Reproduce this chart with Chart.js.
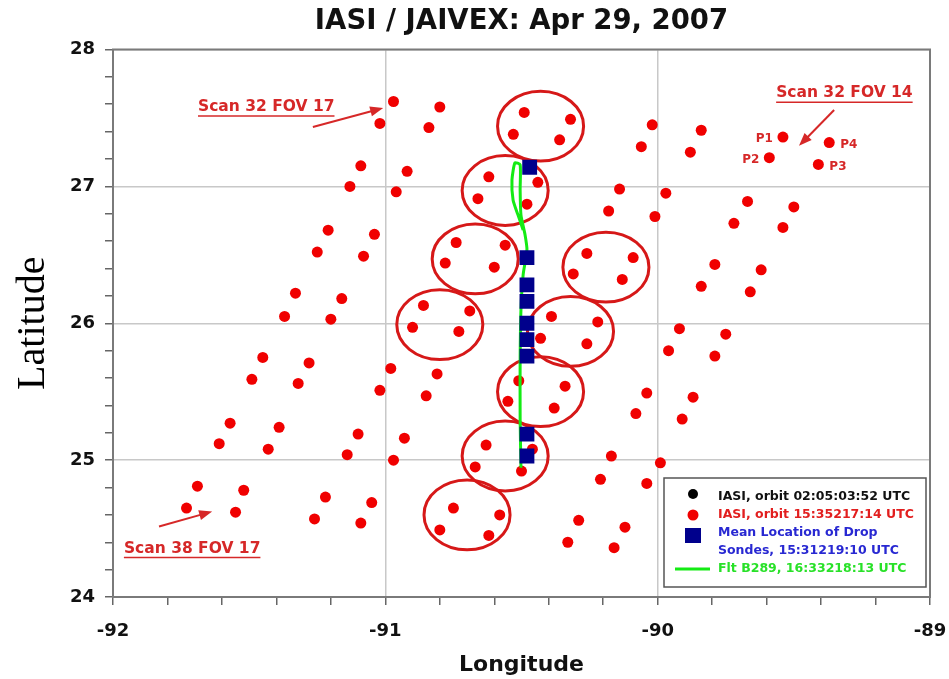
<!DOCTYPE html>
<html><head><meta charset="utf-8">
<script src="https://cdn.jsdelivr.net/npm/chart.js@4.4.0/dist/chart.umd.min.js"></script>
<style>html,body{margin:0;padding:0;background:#fff}canvas{display:block}</style>
</head><body>
<canvas id="c" width="949" height="679"></canvas>
<script>
// ---- data ----
const xTickLabels = [-92, -91, -90, -89];
const yTickLabels = [24, 25, 26, 27, 28];

// IASI FOVs, orbit 15:35-17:14 (groups of 4 pixels, row by row)
const iasiLon = [
  -90.97,-90.80,-91.02,-90.84, -90.49,-90.32,-90.53,-90.36, -90.02,-89.84,-90.06,-89.88, -89.54,-89.37,-89.59,-89.41,
  -91.09,-90.92,-91.13,-90.96, -90.62,-90.44,-90.66,-90.48, -90.14,-89.97,-90.18,-90.01, -89.67,-89.50,-89.72,-89.54,
  -91.21,-91.04,-91.25,-91.08, -90.74,-90.56,-90.78,-90.60, -90.26,-90.09,-90.31,-90.13, -89.79,-89.62,-89.84,-89.66,
  -91.33,-91.16,-91.37,-91.20, -90.86,-90.69,-90.90,-90.73, -90.39,-90.22,-90.43,-90.26, -89.92,-89.75,-89.96,-89.79,
  -91.45,-91.28,-91.49,-91.32, -90.98,-90.81,-91.02,-90.85, -90.51,-90.34,-90.55,-90.38, -90.04,-89.87,-90.08,-89.91,
  -91.57,-91.39,-91.61,-91.43, -91.10,-90.93,-91.14,-90.97, -90.63,-90.46,-90.67,-90.50, -90.17,-89.99,-90.21,-90.04,
  -91.69,-91.52,-91.73,-91.55, -91.22,-91.05,-91.26,-91.09, -90.75,-90.58,-90.80,-90.62, -90.29,-90.12,-90.33,-90.16
];
const iasiLat = [
  27.62,27.58,27.46,27.43, 27.54,27.49,27.38,27.34, 27.45,27.41,27.29,27.25, 27.36,27.32,27.21,27.16,
  27.15,27.11,27.00,26.96, 27.07,27.03,26.91,26.87, 26.98,26.95,26.82,26.78, 26.89,26.85,26.73,26.70,
  26.68,26.65,26.52,26.49, 26.59,26.57,26.44,26.41, 26.51,26.48,26.36,26.32, 26.43,26.39,26.27,26.23,
  26.22,26.18,26.05,26.03, 26.13,26.09,25.97,25.94, 26.05,26.01,25.89,25.85, 25.96,25.92,25.80,25.76,
  25.75,25.71,25.59,25.56, 25.67,25.63,25.51,25.47, 25.58,25.54,25.43,25.38, 25.49,25.46,25.34,25.30,
  25.27,25.24,25.12,25.08, 25.19,25.16,25.04,25.00, 25.11,25.08,24.95,24.92, 25.03,24.98,24.86,24.83,
  24.81,24.78,24.65,24.62, 24.73,24.69,24.57,24.54, 24.65,24.60,24.49,24.45, 24.56,24.51,24.40,24.36
];

// Mean location of drop sondes
const sondeLon = [-90.47, -90.48, -90.48, -90.48, -90.48, -90.48, -90.48, -90.48, -90.48];
const sondeLat = [27.14, 26.48, 26.28, 26.16, 26.00, 25.88, 25.76, 25.19, 25.03];

// Flight B289 track
const flightLon = [-90.502,-90.505,-90.505,-90.502,-90.494,-90.480,-90.487,-90.502,-90.505,-90.505,-90.524,-90.535,-90.531,-90.513,-90.494];
const flightLat = [24.945,25.296,25.734,26.099,26.354,26.536,26.646,26.792,26.974,27.157,27.172,27.047,26.901,26.792,26.682];

// circled collocations (centres)
const circleLon = [-90.43, -90.56, -90.67, -90.19, -90.80, -90.32, -90.43, -90.56, -90.70];
const circleLat = [27.44, 26.97, 26.47, 26.41, 25.99, 25.94, 25.50, 25.03, 24.60];

// text annotations
const noteTexts = ['Scan 32 FOV 17', 'Scan 32 FOV 14', 'Scan 38 FOV 17'];
const noteLon = [-91.688, -89.565, -91.960];
const noteLat = [27.58, 27.68, 24.354];
const arrowFromLon = [-91.266, -89.352, -91.831];
const arrowFromLat = [27.434, 27.558, 24.515];
const arrowToLon = [-91.008, -89.481, -91.636];
const arrowToLat = [27.573, 27.296, 24.624];
const pLabels = ['P1', 'P2', 'P3', 'P4'];
const pPointIndex = [12, 14, 15, 13];

const legendTexts = [
  ['IASI, orbit 02:05:03:52 UTC'],
  ['IASI, orbit 15:35217:14 UTC'],
  ['Mean Location of Drop', 'Sondes, 15:31219:10 UTC'],
  ['Flt B289, 16:33218:13 UTC']
];

// ---- styles ----
const RED = 'rgb(240,0,0)';
const CIRCLE_RED = 'rgb(214,24,24)';
const NOTE_RED = 'rgb(214,40,40)';
const NAVY = 'rgb(0,0,140)';
const GREEN = 'rgb(20,235,20)';
const circleRx = 0.158, circleRy = 0.255;
const BOLD = '"DejaVu Sans", sans-serif';

const toPts = (xs, ys) => xs.map((v, i) => ({x: v, y: ys[i]}));
const isInt = v => Math.abs(v - Math.round(v)) < 1e-6;

function arrow(ctx, x1, y1, x2, y2, color) {
  const ang = Math.atan2(y2 - y1, x2 - x1), L = 13, W = 5;
  ctx.strokeStyle = color; ctx.fillStyle = color; ctx.lineWidth = 2;
  ctx.beginPath(); ctx.moveTo(x1, y1);
  ctx.lineTo(x2 - Math.cos(ang) * L * 0.8, y2 - Math.sin(ang) * L * 0.8); ctx.stroke();
  ctx.beginPath();
  ctx.moveTo(x2, y2);
  ctx.lineTo(x2 - L * Math.cos(ang) + W * Math.sin(ang), y2 - L * Math.sin(ang) - W * Math.cos(ang));
  ctx.lineTo(x2 - L * Math.cos(ang) - W * Math.sin(ang), y2 - L * Math.sin(ang) + W * Math.cos(ang));
  ctx.closePath(); ctx.fill();
}

const overlay = {
  id: 'overlay',
  beforeDatasetsDraw(chart) {
    const {ctx, chartArea: a, scales: {x, y}} = chart;
    ctx.save();
    ctx.strokeStyle = '#7a7a7a'; ctx.lineWidth = 2;
    ctx.strokeRect(a.left, a.top, a.right - a.left, a.bottom - a.top);
    ctx.strokeStyle = CIRCLE_RED; ctx.lineWidth = 3;
    circleLon.forEach((lon, i) => {
      const cx = x.getPixelForValue(lon), cy = y.getPixelForValue(circleLat[i]);
      const rx = Math.abs(x.getPixelForValue(lon + circleRx) - cx);
      const ry = Math.abs(y.getPixelForValue(circleLat[i] + circleRy) - cy);
      ctx.beginPath(); ctx.ellipse(cx, cy, rx, ry, 0, 0, Math.PI * 2); ctx.stroke();
    });
    ctx.restore();
  },
  afterDatasetsDraw(chart) {
    const {ctx, chartArea: a, scales: {x, y}} = chart;
    ctx.save();
    // notes
    ctx.font = 'bold 15.5px ' + BOLD; ctx.textBaseline = 'middle'; ctx.textAlign = 'left';
    noteTexts.forEach((t, i) => {
      const px = x.getPixelForValue(noteLon[i]), py = y.getPixelForValue(noteLat[i]);
      ctx.fillStyle = NOTE_RED; ctx.fillText(t, px, py);
      const w = ctx.measureText(t).width;
      ctx.strokeStyle = NOTE_RED; ctx.lineWidth = 1.5;
      ctx.beginPath(); ctx.moveTo(px, py + 9); ctx.lineTo(px + w, py + 9); ctx.stroke();
      arrow(ctx, x.getPixelForValue(arrowFromLon[i]), y.getPixelForValue(arrowFromLat[i]),
        x.getPixelForValue(arrowToLon[i]), y.getPixelForValue(arrowToLat[i]), NOTE_RED);
    });
    // P labels
    ctx.font = 'bold 12px ' + BOLD; ctx.fillStyle = NOTE_RED;
    pLabels.forEach((t, i) => {
      const k = pPointIndex[i];
      const px = x.getPixelForValue(iasiLon[k]), py = y.getPixelForValue(iasiLat[k]);
      const left = (t === 'P1' || t === 'P2');
      ctx.textAlign = left ? 'right' : 'left';
      ctx.fillText(t, left ? px - 10 : px + 11, py + 2);
    });
    // legend box
    const bw = 262, bh = 109, bx = a.right - 4 - bw, by = a.bottom - 10 - bh;
    ctx.fillStyle = '#fff'; ctx.fillRect(bx, by, bw, bh);
    ctx.strokeStyle = '#555'; ctx.lineWidth = 1.5; ctx.strokeRect(bx, by, bw, bh);
    const mx = bx + 29, tx = bx + 54;
    const colors = ['#111', 'rgb(226,30,30)', 'rgb(40,40,210)', 'rgb(40,225,40)'];
    const rows = [[19], [37], [55, 73], [91]];
    ctx.font = 'bold 12.5px ' + BOLD; ctx.textAlign = 'left'; ctx.textBaseline = 'middle';
    legendTexts.forEach((lines, i) => {
      ctx.fillStyle = colors[i];
      lines.forEach((ln, j) => ctx.fillText(ln, tx, by + rows[i][j]));
    });
    // markers
    ctx.fillStyle = '#000'; ctx.beginPath(); ctx.arc(mx, by + 16, 5, 0, Math.PI * 2); ctx.fill();
    ctx.fillStyle = RED; ctx.beginPath(); ctx.arc(mx, by + 37, 5.5, 0, Math.PI * 2); ctx.fill();
    ctx.fillStyle = NAVY; ctx.fillRect(mx - 8, by + 50, 16, 15);
    ctx.strokeStyle = GREEN; ctx.lineWidth = 3;
    ctx.beginPath(); ctx.moveTo(mx - 18, by + 91); ctx.lineTo(mx + 17, by + 91); ctx.stroke();
    ctx.restore();
  }
};

const gridColor = c => (c.tick && isInt(c.tick.value)) ? 'rgb(200,200,200)' : 'rgba(0,0,0,0)';

new Chart(document.getElementById('c'), {
  type: 'scatter',
  data: {
    datasets: [
      { label: 'Mean Location of Drop Sondes', data: toPts(sondeLon, sondeLat),
        pointStyle: 'rect', pointRadius: 10.5, pointHoverRadius: 10.5,
        backgroundColor: NAVY, borderColor: NAVY, borderWidth: 0 },
      { label: 'Flt B289', data: toPts(flightLon, flightLat), showLine: true,
        borderColor: GREEN, borderWidth: 3, pointRadius: 0, tension: 0.2, fill: false },
      { label: 'IASI, orbit 15:35-17:14 UTC', data: toPts(iasiLon, iasiLat),
        pointRadius: 5.5, pointHoverRadius: 5.5, backgroundColor: RED, borderWidth: 0 }
    ]
  },
  options: {
    responsive: false, animation: false, devicePixelRatio: 1,
    layout: { padding: { left: 0, right: 19, top: 0, bottom: 0 } },
    plugins: {
      legend: { display: false },
      tooltip: { enabled: false },
      title: { display: true, fullSize: false, text: 'IASI / JAIVEX: Apr 29, 2007', color: '#111',
        font: { family: BOLD, size: 27.5, weight: 'bold', lineHeight: 1.2 },
        padding: { top: 5, bottom: 11.5 } }
    },
    scales: {
      x: {
        type: 'linear', min: -92, max: -89,
        afterFit: s => { s.height = 82; s.paddingLeft = 0; s.paddingRight = 0; },
        ticks: { stepSize: 0.2, autoSkip: false, maxRotation: 0, padding: 16, color: '#111',
          font: { family: BOLD, size: 18, weight: 'bold' },
          callback: v => (isInt(v) && xTickLabels.includes(Math.round(v))) ? String(Math.round(v)) : '' },
        grid: { color: gridColor, lineWidth: 1.5, tickColor: '#666', tickLength: 8, tickWidth: 1.5 },
        border: { color: '#7a7a7a', width: 2 },
        title: { display: true, text: 'Longitude', color: '#111',
          font: { family: BOLD, size: 22, weight: 'bold', lineHeight: 1.2 }, padding: { top: 0, bottom: 1 } }
      },
      y: {
        type: 'linear', min: 24, max: 28,
        afterFit: s => { s.width = 113; s.paddingTop = 0; s.paddingBottom = 0; },
        ticks: { stepSize: 0.2, autoSkip: false, padding: 10, color: '#111',
          font: { family: BOLD, size: 18, weight: 'bold' },
          callback: v => (isInt(v) && yTickLabels.includes(Math.round(v))) ? String(Math.round(v)) : '' },
        grid: { color: gridColor, lineWidth: 1.5, tickColor: '#666', tickLength: 8, tickWidth: 1.5 },
        border: { color: '#7a7a7a', width: 2 },
        title: { display: true, text: 'Latitude', color: '#000',
          font: { family: '"Liberation Serif", "Times New Roman", serif', size: 40, weight: 'normal', lineHeight: 1.2 },
          padding: { top: 9, bottom: 0 } }
      }
    }
  },
  plugins: [overlay]
});
</script>
</body></html>
